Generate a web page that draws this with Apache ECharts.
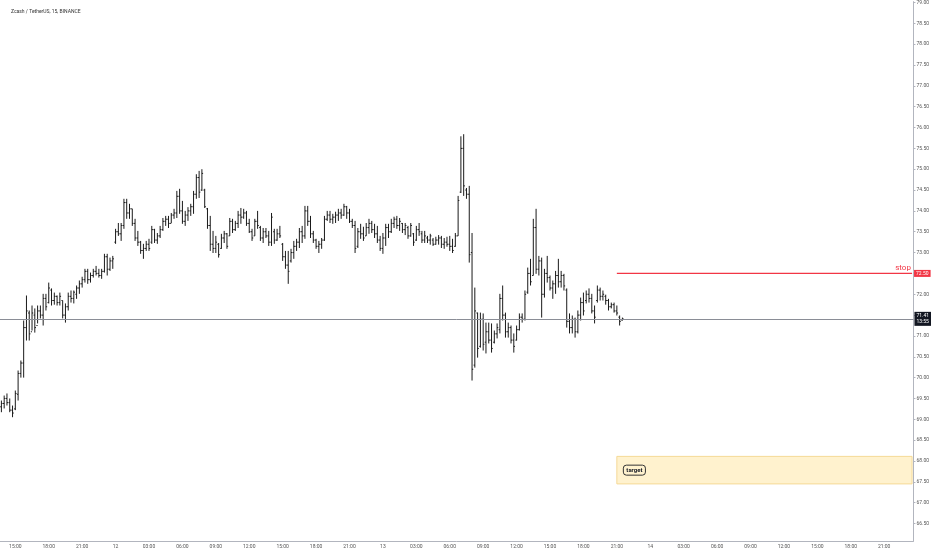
<!DOCTYPE html>
<html>
<head>
<meta charset="utf-8">
<title>ZECUSDT 15</title>
<script src="https://cdn.jsdelivr.net/npm/echarts@6/dist/echarts.min.js"></script>
<style>
html, body { margin: 0; padding: 0; background: #fff; }
#chart { width: 932px; height: 550px; }
</style>
</head>
<body>
<div id="chart"></div>
<script>
// 15 minute bars, first bar 11th 13:45
var opens = [
    69.30, 69.38, 69.50, 69.40, 69.22, 69.25, 69.60, 70.10, 70.35, 71.20,
    71.55, 71.10, 71.50, 71.25, 71.60, 71.50, 71.90, 71.80, 72.10, 71.85,
    71.95, 71.80, 71.85, 71.50, 71.70, 71.95, 71.90, 72.00, 72.15, 72.25,
    72.35, 72.55, 72.35, 72.45, 72.55, 72.50, 72.45, 72.55, 72.90, 72.60,
    72.80, 73.25, 73.50, 73.45, 73.65, 74.20, 73.95, 74.05, 73.70, 73.35,
    73.25, 73.05, 73.10, 73.20, 73.25, 73.55, 73.30, 73.40, 73.55, 73.75,
    73.80, 73.70, 73.90, 73.95, 74.35, 74.00, 73.75, 73.90, 74.00, 74.10,
    74.40, 74.80, 74.50, 74.50, 74.05, 73.65, 73.20, 73.10, 73.20, 73.10,
    73.35, 73.45, 73.40, 73.75, 73.55, 73.70, 73.90, 73.85, 73.95, 73.70,
    73.50, 73.40, 73.75, 73.60, 73.35, 73.50, 73.40, 73.25, 73.50, 73.30,
    73.45, 73.20, 72.90, 72.70, 72.80, 73.00, 73.15, 73.25, 73.50, 73.40,
    74.00, 73.75, 73.45, 73.30, 73.15, 73.20, 73.30, 73.80, 73.90, 73.80,
    73.85, 73.90, 73.95, 73.90, 74.10, 73.95, 73.75, 73.65, 73.15, 73.50,
    73.45, 73.40, 73.60, 73.70, 73.55, 73.45, 73.30, 73.10, 73.35, 73.60,
    73.50, 73.70, 73.80, 73.65, 73.70, 73.55, 73.60, 73.40, 73.45, 73.30,
    73.55, 73.45, 73.30, 73.35, 73.30, 73.30, 73.20, 73.30, 73.35, 73.20,
    73.25, 73.20, 73.15, 73.15, 73.40, 74.45, 75.50, 74.50, 74.40, 73.00,
    70.30, 71.55, 70.75, 71.40, 70.85, 71.10, 70.90, 70.85, 71.05, 71.15,
    71.90, 71.50, 71.10, 71.20, 70.90, 70.90, 71.15, 71.45, 71.40, 72.05,
    72.50, 72.45, 73.60, 72.60, 72.80, 72.00, 72.50, 72.40, 72.15, 72.25,
    72.45, 72.30, 72.45, 72.10, 71.35, 71.20, 71.40, 71.10, 71.50, 71.80,
    71.85, 72.00, 71.90, 71.60, 71.85, 72.10, 71.95, 71.95, 71.85, 71.70,
    71.75, 71.60, 71.45, 71.38
];
var closes = [
    69.38, 69.50, 69.40, 69.22, 69.15, 69.62, 70.10, 70.35, 71.20, 71.60,
    71.05, 71.55, 71.20, 71.60, 71.50, 71.90, 71.70, 72.15, 71.85, 71.95,
    71.80, 71.95, 71.50, 71.70, 71.95, 71.90, 72.05, 72.15, 72.25, 72.35,
    72.55, 72.35, 72.45, 72.55, 72.50, 72.45, 72.55, 72.90, 72.60, 72.80,
    72.85, 73.50, 73.45, 73.65, 74.20, 73.95, 74.05, 73.70, 73.35, 73.25,
    73.05, 73.10, 73.20, 73.10, 73.55, 73.30, 73.40, 73.55, 73.75, 73.80,
    73.70, 73.90, 73.95, 74.35, 74.00, 73.75, 73.90, 74.00, 74.10, 74.40,
    74.80, 74.45, 74.90, 74.10, 73.65, 73.20, 73.10, 73.25, 72.95, 73.35,
    73.45, 73.15, 73.75, 73.55, 73.70, 73.90, 73.85, 73.95, 73.70, 73.50,
    73.35, 73.75, 73.65, 73.35, 73.50, 73.40, 73.25, 73.85, 73.30, 73.45,
    73.40, 72.90, 72.70, 72.55, 73.00, 73.15, 73.25, 73.50, 73.40, 74.00,
    73.75, 73.45, 73.30, 73.15, 73.20, 73.30, 73.80, 73.90, 73.80, 73.85,
    73.90, 73.95, 73.90, 74.10, 73.95, 73.75, 73.65, 73.10, 73.50, 73.45,
    73.35, 73.60, 73.70, 73.55, 73.45, 73.30, 73.10, 73.35, 73.60, 73.50,
    73.70, 73.80, 73.65, 73.75, 73.55, 73.65, 73.40, 73.65, 73.25, 73.55,
    73.50, 73.30, 73.40, 73.30, 73.40, 73.20, 73.30, 73.35, 73.20, 73.25,
    73.20, 73.15, 73.05, 73.40, 74.25, 75.50, 74.60, 74.40, 72.95, 70.20,
    71.60, 70.70, 71.40, 70.80, 71.10, 70.90, 70.70, 71.05, 71.20, 71.90,
    71.50, 71.10, 71.20, 70.90, 70.75, 71.15, 71.45, 71.40, 72.00, 72.50,
    72.30, 73.60, 72.60, 72.80, 72.00, 72.50, 72.40, 72.15, 72.25, 72.45,
    72.30, 72.45, 72.20, 71.35, 71.20, 71.40, 71.10, 71.50, 71.80, 71.60,
    72.00, 71.90, 71.60, 71.45, 72.10, 71.95, 72.00, 71.85, 71.70, 71.75,
    71.60, 71.55, 71.35, 71.41
];
var highs = [
    69.45, 69.57, 69.62, 69.50, 69.33, 69.69, 70.17, 70.41, 71.37, 71.97,
    71.61, 71.73, 71.66, 71.73, 71.73, 72.01, 72.01, 72.28, 72.14, 72.04,
    71.97, 72.04, 71.85, 71.78, 72.04, 72.09, 72.09, 72.21, 72.33, 72.42,
    72.61, 72.61, 72.52, 72.61, 72.68, 72.61, 72.61, 72.97, 72.97, 72.88,
    72.92, 73.57, 73.71, 73.71, 74.29, 74.29, 74.17, 74.05, 73.81, 73.52,
    73.28, 73.21, 73.28, 73.33, 73.64, 73.57, 73.47, 73.64, 73.83, 73.88,
    73.88, 73.95, 74.05, 74.48, 74.53, 74.24, 74.00, 74.09, 74.17, 74.48,
    74.88, 74.96, 75.00, 74.53, 74.07, 73.88, 73.52, 73.40, 73.23, 73.45,
    73.52, 73.47, 73.83, 73.81, 73.76, 74.00, 74.07, 74.05, 74.00, 73.81,
    73.57, 73.81, 74.00, 73.64, 73.59, 73.59, 73.52, 73.95, 73.57, 73.57,
    73.64, 73.23, 73.04, 73.04, 73.09, 73.28, 73.33, 73.59, 73.64, 74.12,
    74.12, 73.88, 73.52, 73.33, 73.28, 73.35, 73.88, 74.00, 74.00, 73.93,
    73.98, 74.05, 74.05, 74.17, 74.12, 74.05, 73.81, 73.76, 73.59, 73.69,
    73.62, 73.71, 73.81, 73.76, 73.69, 73.64, 73.40, 73.47, 73.69, 73.69,
    73.81, 73.86, 73.88, 73.83, 73.71, 73.71, 73.64, 73.71, 73.47, 73.64,
    73.71, 73.52, 73.52, 73.40, 73.45, 73.35, 73.38, 73.42, 73.40, 73.35,
    73.38, 73.40, 73.33, 73.47, 74.36, 75.79, 75.84, 74.55, 74.60, 73.47,
    72.16, 71.56, 71.56, 71.54, 71.32, 71.32, 71.30, 71.13, 71.30, 72.01,
    72.21, 71.56, 71.32, 71.25, 71.06, 71.25, 71.54, 71.54, 72.09, 72.64,
    72.85, 73.81, 74.05, 72.92, 72.88, 72.61, 72.92, 72.45, 72.33, 72.56,
    72.85, 72.56, 72.49, 72.14, 71.54, 71.49, 71.44, 71.61, 71.92, 72.04,
    72.09, 72.14, 72.01, 71.73, 72.21, 72.16, 72.09, 71.99, 71.89, 71.80,
    71.80, 71.73, 71.49, 71.44
];
var lows = [
    69.17, 69.26, 69.33, 69.17, 69.05, 69.22, 69.45, 70.00, 70.00, 70.89,
    70.89, 71.13, 71.08, 71.30, 71.42, 71.25, 71.61, 71.78, 71.73, 71.75,
    71.73, 71.73, 71.42, 71.32, 71.61, 71.80, 71.78, 71.89, 72.01, 72.16,
    72.28, 72.25, 72.28, 72.40, 72.45, 72.40, 72.37, 72.52, 72.45, 72.56,
    72.61, 73.21, 73.40, 73.28, 73.57, 73.81, 73.81, 73.64, 73.28, 73.16,
    72.97, 72.85, 73.04, 73.04, 73.21, 73.23, 73.21, 73.35, 73.52, 73.64,
    73.59, 73.71, 73.81, 73.83, 73.93, 73.69, 73.64, 73.76, 73.88, 73.93,
    74.29, 74.31, 74.48, 74.07, 73.57, 73.04, 72.99, 72.99, 72.88, 73.09,
    73.23, 73.09, 73.40, 73.47, 73.52, 73.59, 73.69, 73.81, 73.64, 73.47,
    73.28, 73.40, 73.57, 73.28, 73.23, 73.35, 73.16, 73.16, 73.21, 73.28,
    73.35, 72.80, 72.61, 72.25, 72.76, 72.85, 73.04, 73.11, 73.23, 73.33,
    73.64, 73.35, 73.23, 73.09, 72.99, 73.09, 73.28, 73.76, 73.71, 73.69,
    73.71, 73.76, 73.81, 73.88, 73.81, 73.71, 73.59, 72.99, 73.11, 73.33,
    73.28, 73.40, 73.45, 73.47, 73.35, 73.23, 73.04, 72.97, 73.16, 73.35,
    73.47, 73.59, 73.57, 73.52, 73.47, 73.42, 73.33, 73.38, 73.16, 73.28,
    73.40, 73.23, 73.23, 73.23, 73.19, 73.16, 73.19, 73.19, 73.11, 73.09,
    73.14, 73.04, 72.99, 73.14, 73.40, 74.43, 74.36, 74.29, 72.76, 69.93,
    70.24, 70.48, 70.72, 70.65, 70.58, 70.82, 70.60, 70.82, 70.94, 71.06,
    71.37, 70.96, 70.96, 70.82, 70.60, 70.89, 71.13, 71.32, 71.37, 72.01,
    72.21, 72.45, 72.49, 72.45, 71.44, 71.92, 72.28, 72.09, 71.89, 72.01,
    72.16, 72.16, 72.09, 71.20, 71.06, 71.06, 70.96, 71.06, 71.37, 71.49,
    71.78, 71.80, 71.54, 71.30, 71.80, 71.85, 71.85, 71.75, 71.61, 71.66,
    71.56, 71.49, 71.25, 71.37
];

var priceTicks = [66.5, 67, 67.5, 68, 68.5, 69, 69.5, 70, 70.5, 71, 71.5, 72,
    72.5, 73, 73.5, 74, 74.5, 75, 75.5, 76, 76.5, 77, 77.5, 78, 78.5, 79];

var lastPrice = 71.41;
var countdown = '13:55';
var stopLevel = 72.50;
var targetTop = 68.11;
var targetBottom = 67.45;
var zoneStart = 221;   // slot where the stop line / target box begin

// time slots on the x axis (15 min each), includes empty future slots
var slotCount = 328;
var startDay = 11;
var startMinute = 13 * 60 + 45;
var categories = [];
for (var i = 0; i < slotCount; i++) {
    var m = startMinute + i * 15;
    var d = startDay + Math.floor(m / 1440);
    var hh = Math.floor((m % 1440) / 60);
    var mm = m % 60;
    categories.push(d + ' ' + (hh < 10 ? '0' : '') + hh + ':' + (mm < 10 ? '0' : '') + mm);
}

function isLabelSlot(index, value) {
    var t = value.split(' ')[1];
    var hh = parseInt(t.split(':')[0], 10);
    return t.slice(3) === '00' && hh % 3 === 0;
}

var barData = [];
for (var k = 0; k < opens.length; k++) {
    barData.push([k, opens[k], closes[k], lows[k], highs[k]]);
}

function renderBar(params, api) {
    var idx = api.value(0);
    var pO = api.coord([idx, api.value(1)]);
    var pC = api.coord([idx, api.value(2)]);
    var pL = api.coord([idx, api.value(3)]);
    var pH = api.coord([idx, api.value(4)]);
    var x = pO[0];
    var t = 1.2;
    var st = { stroke: '#1a1a1a', lineWidth: 1 };
    return {
        type: 'group',
        children: [
            { type: 'line', shape: { x1: x, y1: pH[1], x2: x, y2: pL[1] }, style: st },
            { type: 'line', shape: { x1: x - t, y1: pO[1], x2: x, y2: pO[1] }, style: st },
            { type: 'line', shape: { x1: x, y1: pC[1], x2: x + t, y2: pC[1] }, style: st }
        ]
    };
}

var myChart = echarts.init(document.getElementById('chart'));

var option = {
    backgroundColor: '#ffffff',
    animation: false,
    textStyle: { fontFamily: 'Roboto, "Liberation Sans", sans-serif' },
    title: {
        text: 'Zcash / TetherUS, 15, BINANCE',
        left: 6,
        top: 4,
        textStyle: { fontSize: 5, fontWeight: 'normal', color: '#333' }
    },
    grid: { left: 0, right: 16, top: 0, bottom: 9 },
    xAxis: {
        type: 'category',
        data: categories,
        boundaryGap: true,
        axisLine: { lineStyle: { color: '#b2b5be', width: 1 } },
        axisTick: { interval: isLabelSlot, alignWithLabel: true, length: 2, lineStyle: { color: '#b2b5be' } },
        axisLabel: {
            interval: isLabelSlot,
            fontSize: 5,
            color: '#555',
            margin: 3,
            formatter: function (value) {
                var parts = value.split(' ');
                return parts[1] === '00:00' ? parts[0] : parts[1];
            }
        },
        splitLine: { show: false }
    },
    yAxis: {
        type: 'value',
        position: 'right',
        min: 66.08,
        max: 79.02,
        axisLine: { show: true, lineStyle: { color: '#b2b5be', width: 1 } },
        axisTick: { show: true, customValues: priceTicks, length: 2, lineStyle: { color: '#b2b5be' } },
        axisLabel: {
            customValues: priceTicks,
            fontSize: 5,
            color: '#555',
            margin: 3,
            formatter: function (v) { return v.toFixed(2); }
        },
        splitLine: { show: false }
    },
    series: [
        {
            name: 'ZECUSDT',
            type: 'custom',
            renderItem: renderBar,
            data: barData,
            encode: { x: 0, y: [1, 2, 3, 4] },
            z: 3
        },
        // last price line + price / countdown box
        {
            name: 'last',
            type: 'line',
            data: [],
            markLine: {
                silent: true,
                symbol: 'none',
                lineStyle: { color: '#8a8d96', width: 1, type: 'solid' },
                label: {
                    position: 'end',
                    distance: 1,
                    formatter: lastPrice.toFixed(2) + '\n' + countdown,
                    backgroundColor: '#131722',
                    color: '#fff',
                    fontSize: 5,
                    lineHeight: 6,
                    padding: [1, 2]
                },
                data: [{ yAxis: lastPrice }]
            }
        },
        // stop line, "stop" text and the red price box on the axis
        {
            name: 'stop',
            type: 'line',
            symbol: 'circle',
            symbolSize: 0.1,
            showSymbol: true,
            silent: true,
            z: 4,
            lineStyle: { color: '#f23645', width: 1.3 },
            itemStyle: { color: '#f23645' },
            data: [
                [zoneStart, stopLevel],
                [slotCount - 1, stopLevel]
            ],
            markPoint: {
                silent: true,
                symbol: 'circle',
                symbolSize: 0.1,
                label: {
                    show: true,
                    position: 'top',
                    distance: 1,
                    offset: [-9, 0],
                    formatter: 'stop',
                    color: '#f23645',
                    fontSize: 8
                },
                data: [{ coord: [slotCount - 1, stopLevel] }]
            },
            endLabel: {
                show: true,
                distance: 2,
                formatter: stopLevel.toFixed(2),
                backgroundColor: '#f23645',
                color: '#fff',
                fontSize: 5,
                padding: [1, 2]
            }
        },
        // target zone
        {
            name: 'target',
            type: 'line',
            data: [],
            markArea: {
                silent: true,
                itemStyle: { color: 'rgba(255, 214, 102, 0.32)', borderColor: '#f5d996', borderWidth: 1 },
                label: {
                    show: true,
                    position: 'insideLeft',
                    distance: 7,
                    formatter: 'target',
                    color: '#131722',
                    fontSize: 6,
                    fontWeight: 'bold',
                    borderColor: '#333',
                    borderWidth: 1,
                    borderRadius: 3,
                    padding: [2, 3]
                },
                data: [[
                    { xAxis: zoneStart, yAxis: targetTop },
                    { xAxis: slotCount - 1, yAxis: targetBottom }
                ]]
            }
        }
    ]
};

myChart.setOption(option);
</script>
</body>
</html>
